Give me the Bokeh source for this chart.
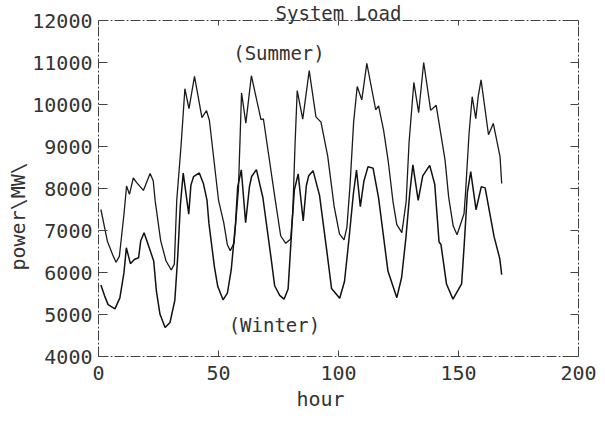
import math
from bokeh.plotting import figure
from bokeh.models import LinearAxis, FixedTicker, Label, Range1d, Title
from bokeh.embed import file_html
from bokeh.resources import INLINE

# ---- data ----
x_ticks = [0, 50, 100, 150, 200]
y_ticks = [4000, 5000, 6000, 7000, 8000, 9000, 10000, 11000, 12000]

hours_summer = [1.0, 3.7, 5.9, 7.3, 8.7, 10.6, 11.7, 12.9, 14.5, 15.9, 18.7, 21.5, 22.8, 23.6,
                25.9, 28.1, 30.3, 31.6, 32.6, 34.4, 36.0, 37.7, 40.0, 43.1, 45.0, 46.2, 50.0,
                52.2, 53.7, 54.9, 56.5, 58.3, 59.6, 61.4, 63.7, 67.7, 68.7, 73.6, 75.9, 78.0,
                80.1, 81.0, 81.9, 82.8, 85.1, 87.8, 90.6, 92.7, 95.5, 98.2, 100.4, 102.3,
                103.5, 104.8, 106.3, 107.8, 109.7, 111.8, 115.5, 116.7, 118.8, 120.7, 122.7,
                124.3, 126.4, 128.2, 129.4, 131.4, 133.4, 135.5, 138.4, 140.7, 144.4, 145.9,
                147.8, 149.4, 152.3, 152.9, 154.4, 155.7, 157.2, 158.2, 159.4, 162.5, 164.5,
                167.3, 168.0]
load_summer = [7500, 6745, 6425, 6245, 6385, 7380, 8060, 7860, 8250, 8140, 7955, 8355, 8185, 7710,
               6760, 6280, 6060, 6200, 7715, 9025, 10375, 9900, 10670, 9690, 9855, 9625, 7725,
               7180, 6660, 6520, 6700, 7975, 10275, 9555, 10685, 9640, 9660, 7745, 6875, 6695,
               6800, 7510, 9060, 10330, 9650, 10805, 9705, 9580, 8770, 7570, 6920, 6775,
               7075, 8075, 9575, 10430, 10110, 10980, 9875, 9965, 9385, 8660, 7690,
               7140, 6950, 7695, 9095, 10525, 9805, 11000, 9860, 9980, 8675, 7795,
               7105, 6900, 7400, 7870, 9310, 10185, 9665, 10185, 10585, 9280, 9550,
               8760, 8120]

hours_winter = [1.0, 2.5, 4.0, 6.85, 8.9, 10.6, 11.6, 13.3, 14.9, 16.7, 17.6, 19.0, 21.1, 23.0,
                24.1, 25.6, 27.75, 29.8, 31.8, 33.0, 34.1, 35.3, 37.6, 38.5, 39.6, 42.0, 43.7,
                45.2, 46.0, 48.3, 49.7, 51.9, 53.7, 55.3, 57.1, 58.0, 59.5, 61.3, 62.9, 63.8,
                65.8, 68.5, 71.8, 73.4, 75.5, 77.3, 79.0, 80.7, 81.6, 83.2, 85.3, 86.6, 87.6,
                89.4, 92.1, 95.0, 97.1, 100.5, 102.5, 104.4, 106.2, 107.5, 109.1, 110.6, 112.3,
                114.4, 116.7, 120.6, 124.3, 126.3, 128.1, 129.7, 131.0, 133.2, 135.1, 138.0,
                140.1, 141.9, 142.7, 145.0, 147.7, 151.3, 152.4, 153.7, 155.1, 157.3, 159.5,
                161.1, 164.8, 167.2, 168.0]
load_winter = [5700, 5450, 5235, 5135, 5395, 5990, 6590, 6210, 6310, 6350, 6755, 6945, 6595, 6275,
               5570, 5010, 4690, 4810, 5335, 6365, 7595, 8365, 7390, 8080, 8280, 8370, 8120,
               7725, 7175, 6135, 5665, 5350, 5510, 6060, 7180, 8040, 8445, 7185, 8045, 8285,
               8450, 7780, 6390, 5685, 5455, 5365, 5605, 7200, 7960, 8350, 7230, 8065, 8305,
               8425, 7835, 6570, 5620, 5385, 5785, 6815, 7875, 8440, 7570, 8180, 8520,
               8485, 7775, 6035, 5400, 5880, 6835, 7895, 8565, 7715, 8300, 8550,
               8100, 6725, 6665, 5725, 5365, 5730, 6680, 7910, 8400, 7495, 8045,
               8015, 6860, 6330, 5950]

title_text = "System Load"
x_label = "hour"
y_label = "power\\MW\\"
summer_text = "(Summer)"
winter_text = "(Winter)"

FONT = "DejaVu Sans Mono"
TXT = "#333333"
AX = "#444444"
DASH = "10 2 2 2"

p = figure(width=600, height=418,
           x_range=Range1d(0, 200), y_range=Range1d(4000, 12000),
           output_backend="svg", toolbar_location=None,
           min_border_left=98, min_border_right=22,
           min_border_top=20, min_border_bottom=62)
p.outline_line_color = None
p.grid.visible = False
p.background_fill_color = "white"
p.border_fill_color = "white"

def style_axis(ax, ticks, show_labels, tick_in):
    ax.ticker = FixedTicker(ticks=ticks)
    ax.major_tick_in = tick_in
    ax.major_tick_out = 0
    ax.minor_tick_line_color = None
    ax.axis_line_color = AX
    ax.axis_line_dash = DASH
    ax.axis_line_width = 1
    ax.major_tick_line_color = AX
    ax.major_tick_line_width = 1
    if show_labels:
        ax.major_label_text_font = FONT
        ax.major_label_text_font_size = "20px"
        ax.major_label_text_color = TXT
    else:
        ax.major_label_text_font_size = "0px"
        ax.major_label_text_color = None
        ax.major_label_standoff = 0

style_axis(p.xaxis[0], x_ticks, True, 6)
p.xaxis[0].major_label_standoff = 9
style_axis(p.yaxis[0], y_ticks, True, 9)
p.yaxis[0].major_label_standoff = 6

right_ax = LinearAxis()
style_axis(right_ax, y_ticks, False, 8)
p.add_layout(right_ax, "right")
top_ax = LinearAxis()
style_axis(top_ax, x_ticks, False, 5)
p.add_layout(top_ax, "above")

p.line(hours_summer, load_summer, line_color="#1a1a1a", line_width=1.3)
p.line(hours_winter, load_winter, line_color="#111111", line_width=1.5)

p.add_layout(Title(text=title_text, text_font=FONT, text_font_size="19px",
                   text_font_style="normal", text_color=TXT, align="center",
                   standoff=-6, offset=2), "above")
p.add_layout(Title(text=x_label, text_font=FONT, text_font_size="20px",
                   text_font_style="normal", text_color=TXT, align="left",
                   offset=198, standoff=5), "below")
p.add_layout(Title(text=y_label, text_font=FONT, text_font_size="20px",
                   text_font_style="normal", text_color=TXT, align="left",
                   offset=86, standoff=0), "left")

p.add_layout(Label(x=75.2, y=11230, text=summer_text, text_font=FONT, text_font_size="19px",
                   text_color=TXT, text_align="center", text_baseline="middle"))
p.add_layout(Label(x=73.3, y=4740, text=winter_text, text_font=FONT, text_font_size="19px",
                   text_color=TXT, text_align="center", text_baseline="middle"))

open("out.html", "w").write(file_html(p, INLINE))
